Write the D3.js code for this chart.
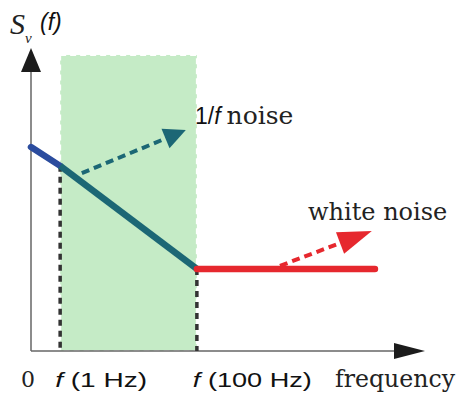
<!DOCTYPE html>
<html>
<head>
    <title>1/f noise and white noise</title>
</head>
<body style="margin:0">
<style type="text/css">
    #renderer {
        width: 456px;
        height: 394px;
        background: #fff;
        display: block;
    }
    .serif { font-family: "DejaVu Serif", serif; fill: #222; }
    .sans { font-family: "Liberation Sans", Arial, sans-serif; fill: #111; }
</style>
<script type="text/javascript" src="https://cdnjs.cloudflare.com/ajax/libs/d3/7.8.5/d3.min.js"></script>
<svg id='renderer'></svg>

<script type="text/javascript">
    var total_width = 456;
    var total_height = 394;

    // 1. data (schematic units)
    var tick_labels = ['0', 'f (1 Hz)', 'f (100 Hz)'];
    var tick_freqs = [0, 0.74, 4.21];

    // noise spectrum: low end, f(1 Hz), f(100 Hz), end of white noise
    var spec_freqs = [0, 0.74, 4.21, 8.73];
    var spec_levels = [6.73, 6.11, 2.71, 2.71];

    // shaded band between 1 Hz and 100 Hz
    var band_freqs = [0.74, 4.21];
    var band_top = 9.77;

    // dashed trend arrows [from, to]
    var pink_arrow_freqs = [1.29, 3.93];
    var pink_arrow_levels = [5.87, 7.29];
    var white_arrow_freqs = [6.32, 8.65];
    var white_arrow_levels = [2.81, 3.96];

    var root = d3.select('#renderer')
        .attr('width', total_width)
        .attr('height', total_height);

    var x = d3.scaleLinear().domain([0, 10]).range([31, 425]);
    var y = d3.scaleLinear().domain([0, 10]).range([351, 48]);

    // 2. draw

    // green band
    root.append('rect')
        .attr('x', x(band_freqs[0]))
        .attr('y', y(band_top))
        .attr('width', x(band_freqs[1]) - x(band_freqs[0]))
        .attr('height', y(0) - y(band_top))
        .attr('fill', '#c5ebc6')
        .attr('stroke', '#ffffff')
        .attr('stroke-width', 2)
        .attr('stroke-dasharray', '6,4');

    // axes
    root.append('line')
        .attr('x1', x(0)).attr('y1', y(0))
        .attr('x2', x(9.3)).attr('y2', y(0))
        .attr('stroke', '#666').attr('stroke-width', 1.5);
    root.append('line')
        .attr('x1', x(0)).attr('y1', y(0))
        .attr('x2', x(0)).attr('y2', y(9.3))
        .attr('stroke', '#666').attr('stroke-width', 1.5);

    // axis arrow heads
    root.append('path')
        .attr('d', 'M' + x(10) + ',' + y(0) + 'L' + (x(10) - 31) + ',' + (y(0) - 8) + 'L' + (x(10) - 31) + ',' + (y(0) + 8) + 'Z')
        .attr('fill', '#1c1c1c');
    root.append('path')
        .attr('d', 'M' + x(0) + ',' + y(10) + 'L' + (x(0) - 10) + ',' + (y(10) + 24) + 'L' + (x(0) + 10) + ',' + (y(10) + 24) + 'Z')
        .attr('fill', '#1c1c1c');

    // dashed drop lines at 1 Hz and 100 Hz
    [1, 2].forEach(function (i) {
        root.append('line')
            .attr('x1', x(spec_freqs[i])).attr('y1', y(spec_levels[i]))
            .attr('x2', x(spec_freqs[i])).attr('y2', y(0))
            .attr('stroke', '#333')
            .attr('stroke-width', 3.5)
            .attr('stroke-dasharray', '6,5');
    });

    // spectrum segments
    var seg_colors = ['#2b4c9e', '#1c6775', '#e6282e'];
    for (var i = 0; i < 3; i++) {
        root.append('line')
            .attr('x1', x(spec_freqs[i])).attr('y1', y(spec_levels[i]))
            .attr('x2', x(spec_freqs[i + 1])).attr('y2', y(spec_levels[i + 1]))
            .attr('stroke', seg_colors[i])
            .attr('stroke-width', 6.5)
            .attr('stroke-linecap', i === 1 ? 'butt' : 'round');
    }

    // dashed arrow with a triangle head, sizes in pixels
    function dashedArrow(fx, fy, color, head_len, head_half) {
        var x0 = x(fx[0]), y0 = y(fy[0]);
        var x1 = x(fx[1]), y1 = y(fy[1]);
        var dx = x1 - x0, dy = y1 - y0;
        var len = Math.sqrt(dx * dx + dy * dy);
        var ux = dx / len, uy = dy / len;
        var bx = x1 - ux * head_len, by = y1 - uy * head_len;

        root.append('line')
            .attr('x1', x0).attr('y1', y0)
            .attr('x2', bx + ux * 2).attr('y2', by + uy * 2)
            .attr('stroke', color)
            .attr('stroke-width', 4)
            .attr('stroke-dasharray', '8,5');
        root.append('path')
            .attr('d', 'M' + x1 + ',' + y1 +
                'L' + (bx - uy * head_half) + ',' + (by + ux * head_half) +
                'L' + (bx + uy * head_half) + ',' + (by - ux * head_half) + 'Z')
            .attr('fill', color);
    }
    dashedArrow(pink_arrow_freqs, pink_arrow_levels, '#1c6775', 22, 10.5);
    dashedArrow(white_arrow_freqs, white_arrow_levels, '#e6282e', 34, 11.5);

    // labels
    var ylab = root.append('text').attr('x', 10).attr('y', 34);
    ylab.append('tspan')
        .attr('font-family', '"Liberation Serif", serif')
        .attr('font-style', 'italic')
        .attr('font-size', 30)
        .attr('fill', '#222')
        .text('S');
    ylab.append('tspan')
        .attr('font-family', '"Liberation Serif", serif')
        .attr('font-style', 'italic')
        .attr('font-size', 15)
        .attr('dy', 9)
        .attr('fill', '#222')
        .text('v');
    ylab.append('tspan')
        .attr('x', 40)
        .attr('y', 30)
        .attr('font-family', '"Liberation Sans", Arial, sans-serif')
        .attr('font-style', 'italic')
        .attr('font-size', 23)
        .attr('fill', '#111')
        .text('(f)');

    var pink = root.append('text').attr('x', 195).attr('y', 124);
    pink.append('tspan').attr('class', 'sans').attr('font-size', 23).text('1/');
    pink.append('tspan').attr('class', 'sans').attr('font-size', 23).attr('font-style', 'italic').text('f');
    pink.append('tspan').attr('class', 'serif').attr('font-size', 25).attr('dx', 6).text('noise');

    root.append('text')
        .attr('class', 'serif')
        .attr('x', 308).attr('y', 220)
        .attr('font-size', 24)
        .text('white noise');

    root.append('text')
        .attr('class', 'serif')
        .attr('x', 335).attr('y', 387)
        .attr('font-size', 24)
        .attr('textLength', 120)
        .attr('lengthAdjust', 'spacingAndGlyphs')
        .text('frequency');

    // tick labels
    var tick_widths = [14, 92, 119];
    var tick_offsets = [-10, -5, -4];
    tick_labels.forEach(function (lab, i) {
        var t = root.append('text')
            .attr('x', x(tick_freqs[i]) + tick_offsets[i])
            .attr('y', 387)
            .attr('textLength', tick_widths[i])
            .attr('lengthAdjust', 'spacingAndGlyphs');
        if (i === 0) {
            t.attr('class', 'serif').attr('font-size', 22).text(lab);
        } else {
            t.attr('class', 'sans').attr('font-size', 21);
            t.append('tspan').attr('font-style', 'italic').text(lab.slice(0, 1));
            t.append('tspan').text(lab.slice(1));
        }
    });
</script>
</body>
</html>
